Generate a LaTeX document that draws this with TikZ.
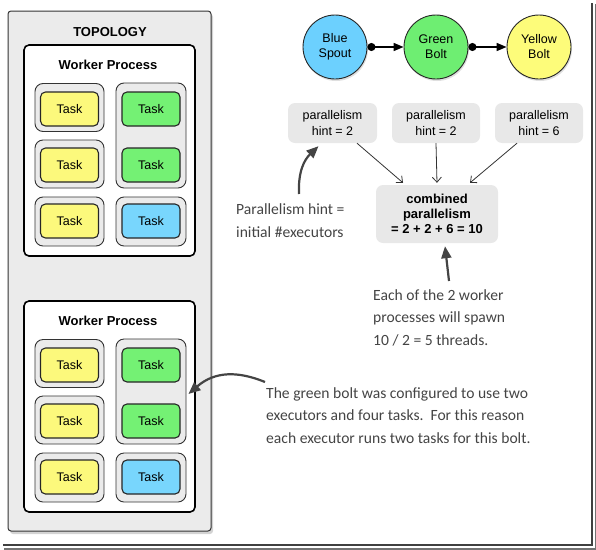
\documentclass[tikz,border=0pt]{standalone}
\usepackage{fontspec}
\setmainfont{Liberation Sans}
\newfontfamily\hand{Carlito}
\usetikzlibrary{arrows.meta,shadows,calc}
\definecolor{tyellow}{HTML}{FCF97C}
\definecolor{tgreen}{HTML}{74F174}
\definecolor{tblue}{HTML}{78D6FD}
\definecolor{cblue}{HTML}{6CD0FE}
\definecolor{cgreen}{HTML}{6EEE72}
\definecolor{cyellow}{HTML}{FDFC7A}
\definecolor{boxgray}{HTML}{EBEBEB}
\definecolor{pgray}{HTML}{E8E8E8}
\definecolor{ink}{HTML}{444444}
\tikzset{
  topo/.style={draw=black!80, line width=1pt, fill=boxgray, rounded corners=3pt,
    minimum width=203pt, minimum height=520pt, inner sep=0pt,
    drop shadow={shadow xshift=2pt, shadow yshift=-3pt, opacity=0.35}},
  worker/.style={draw=black, line width=1.6pt, fill=white, rounded corners=5pt,
    minimum width=171pt, minimum height=211pt, inner sep=0pt},
  execbox/.style={draw=black!80, line width=0.9pt, fill=boxgray, rounded corners=8pt,
    minimum width=69pt, inner sep=0pt},
  task/.style={draw=black!85, line width=1.1pt, rounded corners=5pt,
    minimum width=58pt, minimum height=34pt, inner sep=0pt, font=\fontsize{12.5}{14}\selectfont},
  title/.style={font=\bfseries\fontsize{13}{15}\selectfont},
  comp/.style={circle, draw=black!85, line width=0.9pt, minimum size=64pt, inner sep=0pt,
    align=center, font=\fontsize{12.5}{15}\selectfont,
    drop shadow={shadow xshift=1pt, shadow yshift=-2pt, opacity=0.25}},
  flow/.style={line width=1.6pt, {Circle[length=8pt]}-{Triangle[length=10pt,width=8pt]}},
  pbox/.style={fill=pgray, rounded corners=7pt, minimum width=88pt, minimum height=40pt,
    inner sep=0pt, align=center, font=\fontsize{12.5}{16}\selectfont},
  thin/.style={draw=black!80, line width=0.8pt, -{Straight Barb[length=5pt,width=9pt]}},
  handarrow/.style={draw=ink, line width=2.2pt, -{Triangle[length=12pt,width=10pt]}},
  handtext/.style={text=ink, align=left, inner sep=0pt, anchor=west,
    font=\hand\fontsize{15.6}{22.5}\selectfont}
}
\begin{document}
\begin{tikzpicture}[x=1pt,y=-1pt]
\useasboundingbox (0,0) rectangle (596,549);
% outer frame
\draw[line width=3pt, black!55] (596,4) -- (596,549) -- (4,549);
\draw[line width=2.2pt, black!75] (592,3) -- (592,545) -- (3,545);

% topology
\node[topo] (topo) at (109.5,271) {};
\node[title] (topotitle) at (110,32) {TOPOLOGY};

\foreach \w/\dy in {1/0,2/256}{
  \node[worker] (wp\w) at (109.5,150.5+\dy) {};
  \node[title] (wpt\w) at (108,65+\dy) {Worker Process};
  \node[execbox, minimum height=48pt] (ea\w) at (69.5,107.5+\dy) {};
  \node[execbox, minimum height=48pt] (eb\w) at (69.5,164+\dy) {};
  \node[execbox, minimum height=49pt] (ec\w) at (69.5,221.5+\dy) {};
  \node[execbox, minimum width=70pt, minimum height=105pt] (ed\w) at (151,135.5+\dy) {};
  \node[execbox, minimum width=70pt, minimum height=49pt] (ee\w) at (151,221.5+\dy) {};
  \node[task, fill=tyellow] (ta\w) at (69.5,109+\dy) {Task};
  \node[task, fill=tyellow] (tb\w) at (69.5,165+\dy) {Task};
  \node[task, fill=tyellow] (tc\w) at (69.5,221+\dy) {Task};
  \node[task, fill=tgreen] (td\w) at (151,109+\dy) {Task};
  \node[task, fill=tgreen] (te\w) at (151,165+\dy) {Task};
  \node[task, fill=tblue] (tf\w) at (151,221+\dy) {Task};
}

% components
\node[comp, fill=cblue] (spout) at (335,47) {Blue\\Spout};
\node[comp, fill=cgreen] (gbolt) at (436,47) {Green\\Bolt};
\node[comp, fill=cyellow] (ybolt) at (539,47) {Yellow\\Bolt};
\draw[flow] (spout) -- (gbolt);
\draw[flow] (gbolt) -- (ybolt);

% parallelism hints
\node[pbox, minimum width=89pt] (p1) at (332.5,123) {parallelism\\hint = 2};
\node[pbox] (p2) at (436,123) {parallelism\\hint = 2};
\node[pbox] (p3) at (539,123) {parallelism\\hint = 6};
\node[pbox, minimum width=122pt, minimum height=58pt, font=\bfseries\fontsize{13}{15}\selectfont] (comb) at (437,214)
  {combined\\parallelism\\= 2 + 2 + 6 = 10};
\draw[thin] ($(p1.south)+(24.5,0)$) -- ($(comb.north)+(-34,-2)$);
\draw[thin] (p2.south) -- ($(comb.north)+(0,-2)$);
\draw[thin] ($(p3.south)+(-22,0)$) -- ($(comb.north)+(33,-2)$);

% hand notes
\node[handtext] (n1) at (236,220.5) {Parallelism hint =\\initial \#executors};
\node[handtext] (n2) at (373,317.5) {Each of the 2 worker\\processes will spawn\\10 / 2 = 5 threads.};
\node[handtext] (n3) at (266,415.5) {The green bolt was configured to use two\\executors and four tasks.\ \ For this reason\\each executor runs two tasks for this bolt.};

\coordinate (a1s) at (299,194);
\coordinate (a2s) at (449,281);
\coordinate (a3s) at (265,382);
\draw[handarrow] (a1s) .. controls (298,172) and (304,160) .. ($(p1.south)+(-14,3)$);
\draw[handarrow] (a2s) -- ($(comb.south)+(8,3)$);
\draw[handarrow] (a3s) .. controls (238,371) and (215,371) .. ($(ed2.east)+(2,2.5)$);
\end{tikzpicture}
\end{document}
